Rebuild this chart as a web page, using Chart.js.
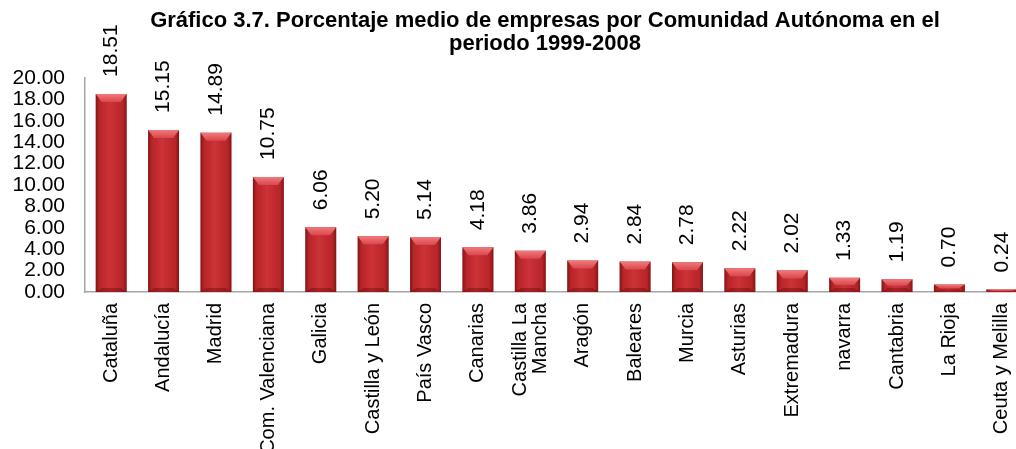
<!DOCTYPE html>
<html lang="es">
<head>
<meta charset="utf-8">
<title>Porcentaje medio de empresas por Comunidad Autónoma</title>
<script src="https://cdn.jsdelivr.net/npm/chart.js@4/dist/chart.umd.min.js"></script>
<style>
  html, body { margin: 0; padding: 0; background: #fff; overflow: hidden; }
  #wrap { width: 1090px; height: 449px; }
</style>
</head>
<body>
<div id="wrap"><canvas id="grafico" width="1090" height="449"></canvas></div>
<script>
const comunidades = [
  "Cataluña", "Andalucía", "Madrid", "Com. Valenciana", "Galicia",
  "Castilla y León", "País Vasco", "Canarias", ["Castilla La", "Mancha"],
  "Aragón", "Baleares", "Murcia", "Asturias", "Extremadura", "navarra",
  "Cantabria", "La Rioja", "Ceuta y Melilla"
];
const porcentajes = [
  18.51, 15.15, 14.89, 10.75, 6.06, 5.20, 5.14, 4.18, 3.86,
  2.94, 2.84, 2.78, 2.22, 2.02, 1.33, 1.19, 0.70, 0.24
];
const titulo = [
  "Gráfico 3.7. Porcentaje medio de empresas por Comunidad Autónoma en el",
  "periodo 1999-2008"
];
const ejeY = { min: 0, max: 20, paso: 2 };

const fuente = "'Liberation Sans', Arial, sans-serif";

// título centrado sobre la figura completa
const tituloGrafico = {
  id: "tituloGrafico",
  afterDraw(chart) {
    const ctx = chart.ctx;
    ctx.save();
    ctx.font = "bold 22px " + fuente;
    ctx.fillStyle = "#000";
    ctx.textAlign = "center";
    ctx.textBaseline = "alphabetic";
    const cx = chart.width / 2;
    titulo.forEach((linea, i) => ctx.fillText(linea, cx, 27 + i * 23));
    ctx.restore();
  }
};

// sombreado de las barras para darles volumen
const volumenBarras = {
  id: "volumenBarras",
  afterDatasetsDraw(chart) {
    const ctx = chart.ctx;
    chart.getDatasetMeta(0).data.forEach((bar) => {
      const { x, y, base, width } = bar.getProps(["x", "y", "base", "width"], true);
      const izq = x - width / 2;
      const der = x + width / 2;
      const alto = base - y;
      if (alto <= 0) return;

      ctx.save();
      const lado = ctx.createLinearGradient(izq, 0, der, 0);
      lado.addColorStop(0, "rgba(60,0,0,0.5)");
      lado.addColorStop(0.12, "rgba(60,0,0,0.1)");
      lado.addColorStop(0.45, "rgba(255,120,120,0.12)");
      lado.addColorStop(0.88, "rgba(60,0,0,0.1)");
      lado.addColorStop(1, "rgba(60,0,0,0.5)");
      ctx.fillStyle = lado;
      ctx.fillRect(izq, y, width, alto);

      // bisel superior
      const b = Math.min(8, alto / 2);
      const m = Math.min(6, width / 4);
      ctx.beginPath();
      ctx.moveTo(izq, y);
      ctx.lineTo(der, y);
      ctx.lineTo(der - m, y + b);
      ctx.lineTo(izq + m, y + b);
      ctx.closePath();
      const tapa = ctx.createLinearGradient(0, y, 0, y + b);
      tapa.addColorStop(0, "#f07a7c");
      tapa.addColorStop(1, "#da474b");
      ctx.fillStyle = tapa;
      ctx.fill();

      // bisel inferior
      const bi = Math.min(4, alto / 3);
      ctx.beginPath();
      ctx.moveTo(izq, base);
      ctx.lineTo(der, base);
      ctx.lineTo(der - m, base - bi);
      ctx.lineTo(izq + m, base - bi);
      ctx.closePath();
      ctx.fillStyle = "rgba(70,0,0,0.3)";
      ctx.fill();
      ctx.restore();
    });
  }
};

// valores encima de cada barra y nombres bajo el eje, en vertical
const textosVerticales = {
  id: "textosVerticales",
  afterDraw(chart) {
    const ctx = chart.ctx;
    const meta = chart.getDatasetMeta(0);
    const escalaX = chart.scales.x;
    ctx.save();
    ctx.fillStyle = "#000";
    ctx.textBaseline = "middle";

    ctx.font = "21px " + fuente;
    ctx.textAlign = "left";
    meta.data.forEach((bar, i) => {
      const { x, y } = bar.getProps(["x", "y"], true);
      ctx.save();
      ctx.translate(x, y - 17);
      ctx.rotate(-Math.PI / 2);
      ctx.fillText(porcentajes[i].toFixed(2), 0, 0);
      ctx.restore();
    });

    ctx.font = "20px " + fuente;
    ctx.textAlign = "right";
    const alto = 20;
    comunidades.forEach((nombre, i) => {
      const lineas = Array.isArray(nombre) ? nombre : [nombre];
      ctx.save();
      ctx.translate(escalaX.getPixelForValue(i), escalaX.top + 11);
      ctx.rotate(-Math.PI / 2);
      lineas.forEach((t, j) => ctx.fillText(t, 0, (j - (lineas.length - 1) / 2) * alto));
      ctx.restore();
    });
    ctx.restore();
  }
};

new Chart(document.getElementById("grafico"), {
  type: "bar",
  data: {
    labels: comunidades,
    datasets: [{
      data: porcentajes,
      backgroundColor: "#c6292e",
      borderWidth: 0,
      barPercentage: 0.59,
      categoryPercentage: 1
    }]
  },
  options: {
    responsive: false,
    animation: false,
    layout: { padding: { left: 0, right: 62, top: 78, bottom: 0 } },
    plugins: {
      legend: { display: false },
      tooltip: { enabled: false },
      title: { display: false }
    },
    scales: {
      y: {
        min: ejeY.min,
        max: ejeY.max,
        grid: { display: false, drawTicks: false },
        border: { display: true, color: "#a6a6a6", width: 1.5 },
        ticks: {
          stepSize: ejeY.paso,
          autoSkip: false,
          padding: 20,
          color: "#000",
          font: { family: fuente, size: 21 },
          callback: (v) => Number(v).toFixed(2)
        },
        afterFit(scale) { scale.width = 85; }
      },
      x: {
        grid: { display: false, drawTicks: false },
        border: { display: true, color: "#a6a6a6", width: 1.5 },
        ticks: { display: false },
        afterFit(scale) { scale.height = 157; }
      }
    }
  },
  plugins: [volumenBarras, textosVerticales, tituloGrafico]
});
</script>
</body>
</html>
